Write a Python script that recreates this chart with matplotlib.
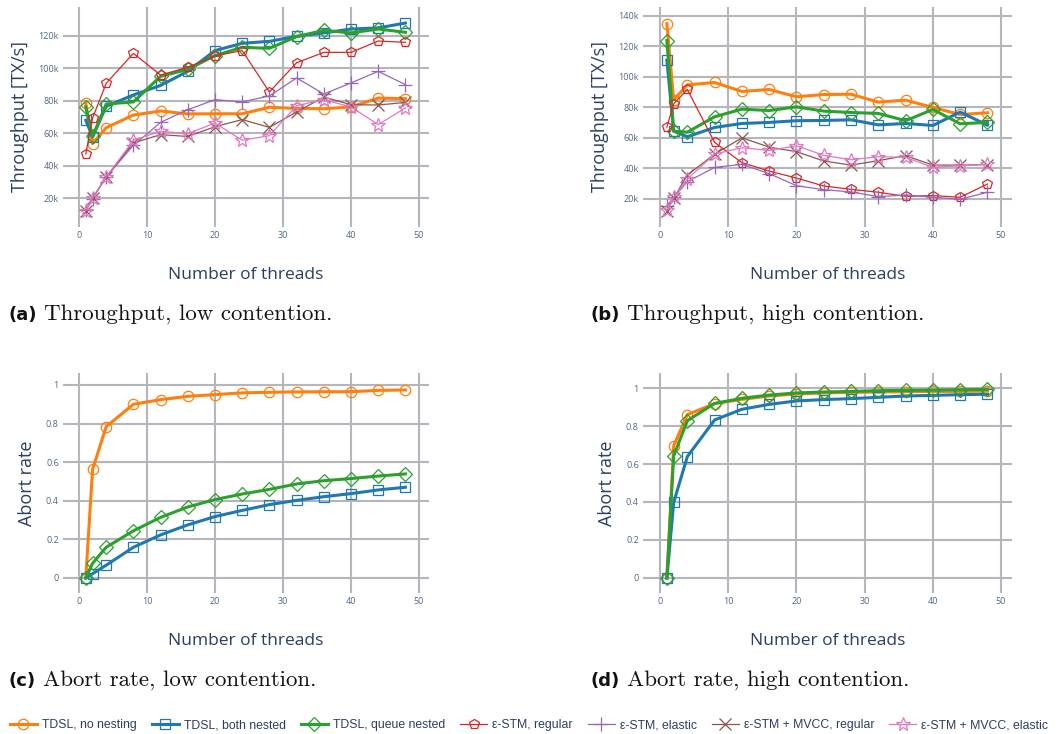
import matplotlib
matplotlib.use("Agg")
import matplotlib.pyplot as plt
from matplotlib.lines import Line2D
from matplotlib.ticker import FuncFormatter

threads = [1, 2, 4, 8, 12, 16, 20, 24, 28, 32, 36, 40, 44, 48]

series_names = ["TDSL, no nesting", "TDSL, both nested", "TDSL, queue nested",
                "ε-STM, regular", "ε-STM, elastic", "ε-STM + MVCC, regular",
                "ε-STM + MVCC, elastic"]

# Throughput, low contention (k TX/s)
tp_low_no_nesting = [78.4, 53.5, 63.4, 71.2, 73.7, 71.9, 72.0, 72.0, 76.0, 75.3, 75.1, 76.2, 81.7, 81.3]
tp_low_both_nested = [68.0, 57.7, 76.6, 83.6, 89.5, 98.2, 111.0, 115.5, 116.7, 119.8, 121.9, 124.3, 125.0, 128.0]
tp_low_queue_nested = [76.2, 58.0, 78.0, 79.3, 95.1, 99.4, 107.9, 113.0, 112.4, 119.6, 123.5, 121.9, 124.3, 122.3]
tp_low_estm_regular = [47.2, 69.4, 90.8, 109.3, 95.9, 100.7, 107.7, 111.0, 85.4, 103.5, 109.9, 109.9, 116.9, 116.1]
tp_low_estm_elastic = [12.8, 19.5, 33.0, 52.5, 66.7, 74.5, 80.7, 79.3, 83.0, 94.1, 84.2, 91.0, 98.2, 90.0]
tp_low_mvcc_regular = [12.2, 20.0, 33.0, 54.0, 59.1, 58.0, 64.0, 68.4, 63.6, 73.1, 82.3, 77.6, 77.4, 79.0]
tp_low_mvcc_elastic = [12.2, 20.0, 33.0, 55.6, 61.2, 59.7, 66.3, 55.6, 58.5, 77.0, 80.7, 76.2, 65.3, 75.6]

# Throughput, high contention (k TX/s)
tp_high_no_nesting = [135.0, 85.0, 94.8, 96.4, 90.5, 91.8, 87.0, 88.5, 88.7, 83.5, 84.8, 80.0, 75.4, 76.5]
tp_high_both_nested = [111.0, 64.5, 60.8, 66.9, 69.5, 70.2, 71.3, 71.5, 71.9, 68.6, 69.5, 68.2, 77.0, 68.4]
tp_high_queue_nested = [123.9, 64.5, 63.8, 73.9, 78.9, 78.0, 80.4, 77.6, 76.7, 76.1, 71.3, 78.7, 69.3, 70.2]
tp_high_estm_regular = [67.1, 82.4, 91.8, 57.1, 43.8, 38.3, 33.7, 28.5, 26.3, 24.4, 21.7, 22.2, 21.1, 29.8]
tp_high_estm_elastic = [15.4, 21.0, 31.3, 40.7, 42.7, 36.6, 28.7, 26.1, 24.6, 21.5, 22.6, 21.1, 19.8, 24.4]
tp_high_mvcc_regular = [12.3, 20.5, 35.7, 49.4, 60.1, 54.0, 51.0, 44.9, 42.2, 45.1, 48.4, 42.2, 42.2, 42.5]
tp_high_mvcc_elastic = [12.8, 21.0, 33.1, 49.4, 53.6, 51.8, 54.9, 48.6, 45.7, 47.7, 47.3, 40.7, 41.8, 42.7]

# Abort rate, low contention
ar_low_no_nesting = [0.0, 0.563, 0.784, 0.900, 0.924, 0.941, 0.950, 0.959, 0.962, 0.964, 0.965, 0.965, 0.972, 0.974]
ar_low_both_nested = [0.0, 0.022, 0.066, 0.159, 0.223, 0.275, 0.318, 0.350, 0.380, 0.402, 0.421, 0.437, 0.456, 0.470]
ar_low_queue_nested = [0.0, 0.076, 0.159, 0.244, 0.314, 0.368, 0.406, 0.435, 0.459, 0.487, 0.504, 0.515, 0.528, 0.539]

# Abort rate, high contention
ar_high_no_nesting = [0.0, 0.696, 0.860, 0.918, 0.940, 0.958, 0.968, 0.974, 0.977, 0.979, 0.980, 0.982, 0.982, 0.984]
ar_high_both_nested = [0.0, 0.398, 0.639, 0.832, 0.888, 0.914, 0.932, 0.939, 0.944, 0.951, 0.958, 0.961, 0.965, 0.967]
ar_high_queue_nested = [0.0, 0.642, 0.828, 0.919, 0.946, 0.963, 0.974, 0.979, 0.982, 0.986, 0.988, 0.989, 0.991, 0.993]

captions = [("(a)", "Throughput, low contention."),
            ("(b)", "Throughput, high contention."),
            ("(c)", "Abort rate, low contention."),
            ("(d)", "Abort rate, high contention.")]

colors = ["#ff7f0e", "#1f77b4", "#2ca02c", "#d62728", "#9467bd", "#8c564b", "#e377c2"]
markers = ["o", "s", "D", "p", "+", "x", "*"]
msizes = [7.5, 7.5, 7.0, 7.5, 10, 8, 10]
lwidths = [2.2, 2.2, 2.2, 0.9, 0.9, 0.9, 0.9]

W, H = 1059, 734
fig = plt.figure(figsize=(W / 100, H / 100), dpi=100)

GRID = "#b5b6bc"
TICKC = "#506784"
TITLEC = "#2a3f5f"


def add_ax(l, r, t, b):
    return fig.add_axes([l / W, (H - b) / H, (r - l) / W, (b - t) / H])


def style(ax, xlim, ylim, yticks, fmt, ylabel):
    ax.set_xlim(*xlim)
    ax.set_ylim(*ylim)
    ax.set_xticks([0, 10, 20, 30, 40, 50])
    ax.set_yticks(yticks)
    ax.yaxis.set_major_formatter(FuncFormatter(fmt))
    for s in ax.spines.values():
        s.set_visible(False)
    ax.grid(True, color=GRID, linewidth=1.5)
    ax.set_axisbelow(True)
    ax.tick_params(length=0, labelsize=6.5, labelcolor=TICKC, pad=3)
    for lab in ax.get_xticklabels() + ax.get_yticklabels():
        lab.set_fontfamily("Open Sans")
    ax.set_xlabel("Number of threads", fontsize=12.5, color=TITLEC, family="Open Sans", labelpad=19)
    ax.set_ylabel(ylabel, fontsize=13, color=TITLEC, family="Open Sans", labelpad=7)
    ax.set_facecolor("white")


def kfmt(v, pos):
    return f"{int(round(v))}k"


def rfmt(v, pos):
    if abs(v) < 1e-9:
        return "0"
    if abs(v - 1) < 1e-9:
        return "1"
    return f"{v:.1f}"


def plot_series(ax, ys_list):
    handles = []
    for i, ys in enumerate(ys_list):
        h, = ax.plot(threads, ys, color=colors[i], marker=markers[i], markersize=msizes[i],
                     markerfacecolor="none", markeredgecolor=colors[i], markeredgewidth=0.9,
                     linewidth=lwidths[i], clip_on=False)
        handles.append(h)
    return handles


ax_a = add_ax(63, 429, 7, 227)
style(ax_a, (-2.35, 51.47), (2.1, 137.9), [20, 40, 60, 80, 100, 120], kfmt, "Throughput [TX/s]")
plot_series(ax_a, [tp_low_no_nesting, tp_low_both_nested, tp_low_queue_nested,
                   tp_low_estm_regular, tp_low_estm_elastic, tp_low_mvcc_regular, tp_low_mvcc_elastic])

ax_b = add_ax(643, 1012, 7, 227)
style(ax_b, (-2.5, 51.6), (1.6, 145.9), [20, 40, 60, 80, 100, 120, 140], kfmt, "Throughput [TX/s]")
plot_series(ax_b, [tp_high_no_nesting, tp_high_both_nested, tp_high_queue_nested,
                   tp_high_estm_regular, tp_high_estm_elastic, tp_high_mvcc_regular, tp_high_mvcc_elastic])

ax_c = add_ax(63, 429, 373, 593)
style(ax_c, (-2.35, 51.47), (-0.078, 1.062), [0, 0.2, 0.4, 0.6, 0.8, 1.0], rfmt, "Abort rate")
plot_series(ax_c, [ar_low_no_nesting, ar_low_both_nested, ar_low_queue_nested])

ax_d = add_ax(643, 1012, 373, 593)
style(ax_d, (-2.5, 51.6), (-0.079, 1.079), [0, 0.2, 0.4, 0.6, 0.8, 1.0], rfmt, "Abort rate")
plot_series(ax_d, [ar_high_no_nesting, ar_high_both_nested, ar_high_queue_nested])

# captions
cap_pos = [(8, 320), (590, 320), (8, 686), (590, 686)]
renderer = fig.canvas.get_renderer()
for (lab, txt), (px, py) in zip(captions, cap_pos):
    t1 = fig.text(px / W, (H - py) / H, lab, fontsize=13, fontweight="bold",
                  family="DejaVu Sans", va="baseline", ha="left", color="#111111")
    bb = t1.get_window_extent(renderer)
    fig.text((bb.x1 + 8) / W, (H - py) / H, txt, fontsize=16.5, family="cmr10",
             va="baseline", ha="left", color="#111111")

# legend
handles = [Line2D([], [], color=colors[i], marker=markers[i], markersize=msizes[i],
                  markerfacecolor="none", markeredgewidth=0.9, linewidth=lwidths[i])
           for i in range(7)]
fig.legend(handles, series_names, ncol=7, loc="center left",
           bbox_to_anchor=(10 / W, (H - 725) / H), frameon=False,
           prop={"family": ["Liberation Sans", "DejaVu Sans"], "size": 8.8},
           handlelength=2.2, handletextpad=0.4, columnspacing=1.25,
           borderaxespad=0, borderpad=0)
for t in fig.legends[0].get_texts():
    t.set_color(TITLEC)

fig.savefig("out.png", dpi=100)
